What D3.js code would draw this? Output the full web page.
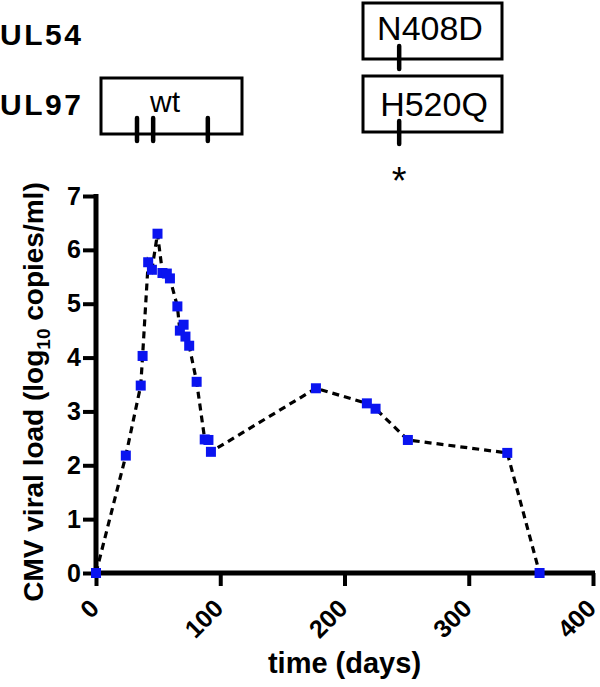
<!DOCTYPE html>
<html><head><meta charset="utf-8">
<script src="https://cdn.jsdelivr.net/npm/d3@7"></script>
<style>
body{margin:0;background:#fff;}
svg{display:block;font-family:"Liberation Sans",Arial,sans-serif;}
</style></head>
<body>
<svg id="c" width="600" height="687"></svg>
<script>
// ---- data ----
const days = [0, 24, 36, 37.5, 42, 45, 49.5, 53.5, 57, 59.5, 65.5, 67.5, 70.5, 72, 75, 81, 87.5, 90.5, 92.5, 177, 218, 225, 251, 331, 357];
const viralLoad = [0, 2.18, 3.48, 4.03, 5.77, 5.63, 6.30, 5.57, 5.56, 5.47, 4.95, 4.50, 4.61, 4.39, 4.22, 3.55, 2.48, 2.47, 2.25, 3.43, 3.15, 3.05, 2.47, 2.23, 0];
const xTicks = [0, 100, 200, 300, 400];
const yTicks = [0, 1, 2, 3, 4, 5, 6, 7];
const ul97WtDays = [33, 46, 90];
const mutationDay = 244;
const geneLabels = ["UL54", "UL97"];
const ul97Labels = ["wt", "H520Q"];
const ul54Labels = ["N408D"];

const svg = d3.select("#c");
const x = d3.scaleLinear().domain([0, 400]).range([96, 593]);
const y = d3.scaleLinear().domain([0, 7]).range([573, 196]);

// axes
const xAxis = svg.append("g").attr("transform", `translate(0,${y(0)})`)
  .call(d3.axisBottom(x).tickValues(xTicks).tickFormat(d3.format("d")).tickSize(13));
xAxis.select(".domain").attr("stroke", "#000").attr("stroke-width", 5).attr("d", `M${x(0)},0H${x(400)+2}`);
xAxis.selectAll(".tick line").attr("stroke", "#000").attr("stroke-width", 4);
xAxis.selectAll(".tick text")
  .attr("font-size", 25).attr("font-weight", "bold").attr("fill", "#000")
  .attr("text-anchor", "end").attr("dy", null).attr("y", 0).attr("x", 0)
  .attr("transform", "translate(4,37) rotate(-45)");

const yAxis = svg.append("g").attr("transform", `translate(${x(0)},0)`)
  .call(d3.axisLeft(y).tickValues(yTicks).tickFormat(d3.format("d")).tickSize(13).tickPadding(2));
yAxis.select(".domain").attr("stroke", "#000").attr("stroke-width", 5).attr("d", `M0,${y(7)-2}V${y(0)+2}`);
yAxis.selectAll(".tick line").attr("stroke", "#000").attr("stroke-width", 4);
yAxis.selectAll(".tick text")
  .attr("font-size", 25).attr("font-weight", "bold").attr("fill", "#000");

// line
const pts = days.map((d, i) => [d, viralLoad[i]]);
svg.append("path").datum(pts)
  .attr("fill", "none").attr("stroke", "#000").attr("stroke-width", 3.2)
  .attr("stroke-dasharray", "7,5")
  .attr("d", d3.line().x(d => x(d[0])).y(d => y(d[1])));

svg.selectAll("rect.pt").data(pts).enter().append("rect").attr("class", "pt")
  .attr("x", d => x(d[0]) - 5).attr("y", d => y(d[1]) - 5)
  .attr("width", 10).attr("height", 10).attr("fill", "#0a14f0");

// axis titles
svg.append("text").attr("x", x(200)).attr("y", 673)
  .attr("text-anchor", "middle").attr("font-size", 29).attr("font-weight", "bold")
  .text("time (days)");

const yt = svg.append("text").attr("transform", "translate(43,392) rotate(-90)")
  .attr("text-anchor", "middle").attr("font-size", 28).attr("font-weight", "bold");
yt.append("tspan").text("CMV viral load (log");
yt.append("tspan").attr("font-size", 19).attr("dy", 7).text("10");
yt.append("tspan").attr("dy", -7).text(" copies/ml)");

// gene labels
svg.append("text").attr("x", 0).attr("y", 45).attr("font-size", 30).attr("font-weight", "bold")
  .attr("letter-spacing", 2.5).text(geneLabels[0]);
svg.append("text").attr("x", 0).attr("y", 115).attr("font-size", 30).attr("font-weight", "bold")
  .attr("letter-spacing", 2.5).text(geneLabels[1]);

// boxes
function box(x0, y0, w, h, label, tx, ty, fs) {
  svg.append("rect").attr("x", x0).attr("y", y0).attr("width", w).attr("height", h)
    .attr("fill", "none").attr("stroke", "#000").attr("stroke-width", 3);
  svg.append("text").attr("x", tx).attr("y", ty).attr("font-size", fs).attr("text-anchor", "middle").text(label);
}
box(101, 78, 141, 56, ul97Labels[0], 165, 112, 30);
box(363, 3, 139, 56, ul54Labels[0], 430, 40, 34);
box(363, 76, 139, 56, ul97Labels[1], 434, 116, 34);

// tick marks on boxes
ul97WtDays.forEach(d => {
  svg.append("line").attr("x1", x(d)).attr("x2", x(d)).attr("y1", 118).attr("y2", 141)
    .attr("stroke", "#000").attr("stroke-width", 4.5).attr("stroke-linecap", "round");
});
[[46, 69], [121, 144]].forEach(([a, b]) => {
  svg.append("line").attr("x1", x(mutationDay)).attr("x2", x(mutationDay)).attr("y1", a).attr("y2", b)
    .attr("stroke", "#000").attr("stroke-width", 4.5).attr("stroke-linecap", "round");
});
svg.append("text").attr("x", x(mutationDay)).attr("y", 194).attr("text-anchor", "middle")
  .attr("font-size", 38).text("*");
</script>
</body></html>
